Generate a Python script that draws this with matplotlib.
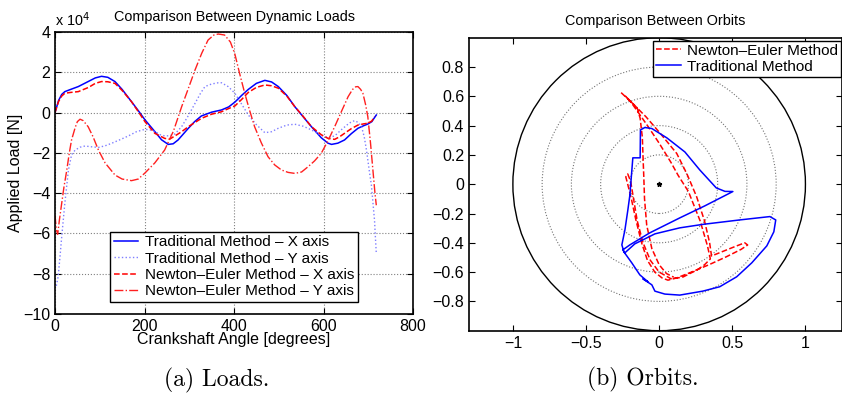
import numpy as np
import matplotlib
matplotlib.use('Agg')
import matplotlib.pyplot as plt
from matplotlib.patches import Circle

plt.rcParams['font.family'] = ['Liberation Sans', 'DejaVu Sans']

# ---- loads (values in 1e4 N) ----
tx_ang = [0, 8, 15, 22, 35, 52, 75, 90, 104, 118, 134, 150, 171, 186, 201, 223, 238, 253, 264,
          275, 298, 312, 327, 350, 372, 388, 402, 417, 432, 450, 469, 484, 499, 518, 536, 555,
          573, 595, 610, 618, 632, 647, 662, 677, 690, 699, 708, 714, 718]
tx_val = [0.0, 0.6, 0.9, 1.04, 1.15, 1.29, 1.55, 1.72, 1.80, 1.75, 1.54, 1.15, 0.54, 0.1, -0.36,
          -0.94, -1.35, -1.58, -1.55, -1.36, -0.78, -0.45, -0.17, 0.02, 0.13, 0.28, 0.52, 0.85,
          1.15, 1.45, 1.60, 1.52, 1.29, 0.85, 0.29, -0.22, -0.70, -1.25, -1.52, -1.58, -1.52,
          -1.36, -1.05, -0.78, -0.65, -0.57, -0.45, -0.25, -0.12]

ty_ang = [3, 7, 11, 15, 22, 30, 37, 45, 56, 67, 82, 97, 112, 126, 145, 164, 182, 201, 212, 223,
          235, 245, 256, 268, 283, 298, 313, 325, 335, 350, 365, 372, 387, 402, 417, 432, 450,
          469, 484, 499, 518, 536, 555, 573, 588, 603, 614, 625, 640, 655, 663, 670, 678, 685,
          691, 696, 703, 707, 711, 714, 716, 718]
ty_val = [-8.6, -8.15, -7.2, -6.16, -4.5, -2.85, -2.1, -1.86, -1.72, -1.66, -1.70, -1.73, -1.65,
          -1.53, -1.35, -1.16, -0.95, -0.83, -0.86, -0.94, -1.1, -1.16, -1.15, -1.06, -0.70,
          -0.15, 0.46, 0.95, 1.29, 1.42, 1.48, 1.48, 1.29, 0.96, 0.42, -0.12, -0.6, -1.0, -0.95,
          -0.78, -0.62, -0.58, -0.68, -0.86, -1.05, -1.2, -1.22, -1.16, -0.85, -0.57, -0.45,
          -0.40, -0.5, -0.70, -1.2, -1.86, -3.0, -3.6, -4.6, -5.34, -6.2, -6.99]

nx_ang = [0, 8, 15, 22, 35, 52, 75, 90, 104, 118, 134, 150, 171, 186, 201, 223, 245, 256, 268,
          283, 298, 327, 350, 372, 388, 402, 417, 432, 450, 469, 484, 499, 518, 536, 555, 573,
          595, 610, 625, 636, 647, 662, 677, 690, 699, 708, 714]
nx_val = [0.0, 0.55, 0.82, 0.96, 1.0, 1.04, 1.25, 1.45, 1.54, 1.53, 1.45, 1.1, 0.54, 0.05, -0.45,
          -1.03, -1.28, -1.32, -1.16, -0.95, -0.70, -0.29, -0.08, 0.04, 0.2, 0.33, 0.65, 1.0,
          1.25, 1.37, 1.33, 1.21, 0.82, 0.29, -0.2, -0.70, -1.1, -1.28, -1.33, -1.2, -1.03,
          -0.8, -0.62, -0.56, -0.53, -0.42, -0.2]

ny_ang = [0, 3, 6, 10, 15, 20, 26, 32, 37, 45, 50, 56, 63, 74, 85, 97, 112, 134, 150, 171, 186,
          201, 223, 245, 265, 283, 298, 313, 328, 342, 355, 365, 379, 392, 402, 413, 424, 435,
          446, 461, 476, 491, 506, 521, 536, 551, 566, 580, 595, 610, 625, 640, 655, 665, 672,
          677, 683, 688, 694, 699, 705, 711, 715, 718]
ny_val = [-5.1, -5.8, -6.05, -5.3, -4.5, -3.7, -2.9, -2.0, -1.36, -0.75, -0.45, -0.33, -0.4,
          -0.70, -1.2, -1.86, -2.5, -3.1, -3.3, -3.38, -3.3, -3.0, -2.5, -1.86, -0.9, 0.29, 1.2,
          2.12, 2.95, 3.6, 3.85, 3.9, 3.85, 3.5, 2.9, 1.9, 0.96, 0.1, -0.7, -1.5, -2.19, -2.6,
          -2.85, -2.97, -3.02, -2.95, -2.68, -2.4, -2.02, -1.4, -0.7, 0.05, 0.79, 1.15, 1.28,
          1.29, 1.15, 0.96, 0.4, -0.2, -1.5, -3.0, -4.0, -4.6]

# ---- orbits ----
trad_x = [-0.20, -0.18, -0.13, -0.128, -0.098, -0.05, 0.053, 0.176, 0.278, 0.39, 0.45, 0.504,
          0.312, 0.141, -0.064, -0.20, -0.248, -0.235, -0.166, -0.029, 0.141, 0.30, 0.55, 0.757,
          0.797, 0.784, 0.736, 0.633, 0.53, 0.414, 0.298, 0.141, 0.039, -0.029, -0.05, -0.111,
          -0.077, -0.132, -0.187, -0.241, -0.255, -0.234, -0.214, -0.20]
trad_y = [-0.073, 0.18, 0.18, 0.37, 0.387, 0.38, 0.316, 0.22, 0.097, -0.025, -0.049, -0.05,
          -0.148, -0.230, -0.332, -0.414, -0.448, -0.469, -0.407, -0.339, -0.298, -0.274, -0.244,
          -0.221, -0.244, -0.325, -0.421, -0.537, -0.632, -0.70, -0.73, -0.757, -0.75, -0.73,
          -0.687, -0.646, -0.666, -0.619, -0.537, -0.462, -0.414, -0.312, -0.176, -0.073]

ne_x = [-0.26, -0.18, -0.09, 0.005, 0.12, 0.19, 0.256, 0.31, 0.345, 0.358, 0.42, 0.52, 0.585,
        0.605, 0.56, 0.46, 0.34, 0.22, 0.12, 0.06, 0.02, -0.03, -0.08, -0.12, -0.16, -0.19,
        -0.215, -0.228, -0.215, -0.195, -0.175, -0.15, -0.11, -0.06, 0.0, 0.08, 0.16, 0.26,
        0.31, 0.35, 0.33, 0.28, 0.20, 0.13, 0.08, 0.0, -0.08, -0.15, -0.20, -0.23, -0.19,
        -0.15, -0.13, -0.115, -0.11, -0.105, -0.10, -0.085, -0.05, 0.0, 0.05, 0.10]
ne_y = [0.625, 0.55, 0.46, 0.35, 0.21, 0.07, -0.085, -0.25, -0.40, -0.49, -0.465, -0.425, -0.40,
        -0.415, -0.445, -0.495, -0.55, -0.60, -0.64, -0.655, -0.64, -0.60, -0.52, -0.40, -0.24,
        -0.10, 0.0, 0.05, 0.07, 0.02, -0.10, -0.25, -0.40, -0.52, -0.60, -0.645, -0.635,
        -0.585, -0.55, -0.51, -0.42, -0.25, -0.05, 0.06, 0.15, 0.28, 0.40, 0.50, 0.57, 0.60,
        0.56, 0.52, 0.45, 0.32, 0.18, 0.05, -0.10, -0.28, -0.44, -0.55, -0.61, -0.635]

grid_r = [0.2, 0.4, 0.6, 0.8]

fig = plt.figure(figsize=(8.42, 3.96), dpi=100)

# ---------- (a) loads ----------
ax = fig.add_axes([55/842, 1-314/396, 358/842, 282/396])
ax.plot(tx_ang, tx_val, color='#0000ff', lw=1.1, label='Traditional Method – X axis')
ax.plot(ty_ang, ty_val, color='#7f7fff', lw=1.0, ls=':', label='Traditional Method – Y axis')
ax.plot(nx_ang, nx_val, color='#ff0000', lw=1.1, ls='--', label='Newton–Euler Method – X axis')
ax.plot(ny_ang, ny_val, color='#ff2020', lw=1.0, ls='-.', label='Newton–Euler Method – Y axis')
ax.set_xlim(0, 800)
ax.set_ylim(-10, 4)
ax.set_xticks([0, 200, 400, 600, 800])
ax.set_yticks(range(-10, 5, 2))
ax.grid(True, ls=':', color='0.5', lw=0.8)
ax.tick_params(direction='in', top=True, right=True, labelsize=11.5, length=4)
ax.set_title('Comparison Between Dynamic Loads', fontsize=10.4, pad=8)
ax.text(0, 1.01, r'x 10$^{4}$', transform=ax.transAxes, ha='left', va='bottom', fontsize=10.4)
ax.set_xlabel('Crankshaft Angle [degrees]', fontsize=11.5)
ax.set_ylabel('Applied Load [N]', fontsize=11.5)
ax.xaxis.set_label_coords(0.5, -0.065)
ax.yaxis.set_label_coords(-0.09, 0.5)
leg = ax.legend(loc='lower center', bbox_to_anchor=(0.5, 0.015), fontsize=11, fancybox=False,
                edgecolor='black', framealpha=1, handlelength=1.6, labelspacing=0.15,
                borderpad=0.25, handletextpad=0.4)
leg.get_frame().set_linewidth(1.0)
for s in ax.spines.values():
    s.set_linewidth(1.2)

# ---------- (b) orbits ----------
ax2 = fig.add_axes([469/842, 1-330.7/396, 373/842, 293/396])
for r in grid_r:
    ax2.add_patch(Circle((0, 0), r, fill=False, ls=':', color='0.45', lw=0.8))
ax2.add_patch(Circle((0, 0), 1.0, fill=False, color='black', lw=1.0))
ax2.plot(ne_x, ne_y, color='#ff0000', ls='--', lw=1.1, label='Newton–Euler Method')
ax2.plot(trad_x, trad_y, color='#0000ff', lw=1.1, label='Traditional Method')
ax2.plot([0], [0], marker='*', color='black', ms=3.5)
ax2.set_xlim(-1.3, 1.25)
ax2.set_ylim(-1, 1)
ax2.set_xticks([-1, -0.5, 0, 0.5, 1])
ax2.set_xticklabels(['−1', '−0.5', '0', '0.5', '1'])
ax2.set_yticks([-0.8, -0.6, -0.4, -0.2, 0, 0.2, 0.4, 0.6, 0.8])
ax2.set_yticklabels(['−0.8', '−0.6', '−0.4', '−0.2', '0', '0.2', '0.4', '0.6', '0.8'])
ax2.tick_params(direction='in', top=True, right=True, labelsize=11.5, length=4)
ax2.set_title('Comparison Between Orbits', fontsize=10.4, pad=9)
leg2 = ax2.legend(loc='upper right', bbox_to_anchor=(0.997, 0.99), fontsize=11, fancybox=False,
                  edgecolor='black', framealpha=1, handlelength=1.6, labelspacing=0.12,
                  borderpad=0.2, handletextpad=0.4, borderaxespad=0)
leg2.get_frame().set_linewidth(1.0)
for s in ax2.spines.values():
    s.set_linewidth(1.2)

fig.text(217/842, 1-380/396, '(a) Loads.', family='cmr10', fontsize=17, ha='center', va='center')
fig.text(643/842, 1-379/396, '(b) Orbits.', family='cmr10', fontsize=17, ha='center', va='center')

fig.savefig('out.png', dpi=100)
